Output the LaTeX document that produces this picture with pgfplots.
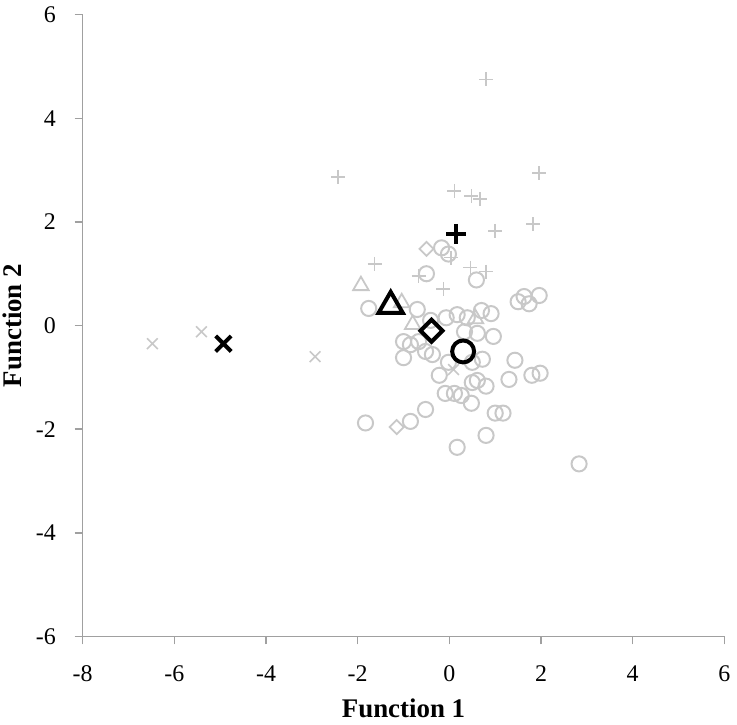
\documentclass[border=0pt]{standalone}
\usepackage{fontspec}
\setmainfont{Liberation Serif}
\usepackage{pgfplots}
\pgfplotsset{compat=1.18}
\definecolor{markgray}{HTML}{C8C8C8}
\definecolor{axisgray}{HTML}{A0A0A0}

\begin{document}
\begin{tikzpicture}
\begin{axis}[
  scale only axis, width=322pt, height=312pt,
  xmin=-8, xmax=6, ymin=-6, ymax=6,
  xtick={-8,-6,...,6}, ytick={-6,-4,...,6},
  axis x line*=bottom, axis y line*=left,
  axis line style={draw=axisgray, line width=0.75pt, -},
  tick style={draw=axisgray, line width=0.75pt},
  major tick length=4pt,
  tick align=outside,
  /pgf/number format/assume math mode=true,
  ticklabel style={font=\fontsize{12}{14}\selectfont},
  xticklabel style={yshift=-7pt},
  yticklabel style={xshift=-6pt},
  xlabel={Function 1}, ylabel={Function 2},
  every axis x label/.style={at={(axis description cs:0.5,-0.116)}, anchor=center, inner sep=0pt,
    font=\fontsize{13.5}{15}\selectfont\bfseries},
  every axis y label/.style={at={(axis description cs:-0.109,0.5)}, anchor=center, rotate=90, inner sep=0pt,
    font=\fontsize{13.5}{15}\selectfont\bfseries},
  clip=false,
]

% gray group cases
\addplot[only marks, mark=o, mark size=3.8pt, color=markgray, mark options={line width=1pt}]
  coordinates {
  (-1.76,0.33)(-0.70,0.31)(-0.50,1.00)(-0.17,1.50)(-0.02,1.38)(0.59,0.88)
  (-0.41,0.10)(-0.07,0.15)(0.17,0.21)(0.39,0.15)(0.70,0.29)(0.91,0.23)
  (1.50,0.46)(1.63,0.56)(1.74,0.42)(1.96,0.58)(0.33,-0.12)(0.61,-0.15)
  (0.96,-0.21)(-1.00,-0.31)(-0.85,-0.37)(-0.67,-0.31)(-0.52,-0.50)(-0.37,-0.56)
  (-1.00,-0.62)(-0.02,-0.71)(0.50,-0.71)(0.72,-0.65)(1.43,-0.67)(-0.22,-0.96)
  (0.50,-1.10)(0.61,-1.06)(0.80,-1.17)(1.30,-1.04)(1.80,-0.96)(1.98,-0.92)
  (-0.09,-1.31)(0.11,-1.31)(0.26,-1.35)(0.48,-1.50)(-0.52,-1.62)(-0.85,-1.85)
  (-1.83,-1.88)(1.00,-1.69)(1.17,-1.69)(0.80,-2.12)(0.17,-2.35)(2.83,-2.67)
  };

\addplot[only marks, mark=+, mark size=3.5pt, color=markgray, mark options={line width=0.8pt}]
  coordinates {
  (-2.43,2.87)(1.96,2.94)(0.11,2.60)(0.48,2.50)(0.67,2.44)(1.83,1.96)
  (1.00,1.83)(-1.63,1.19)(0.46,1.12)(0.80,1.04)(-0.67,0.96)(-0.13,0.71)
  (0.80,4.75)(0.04,1.31)
  };

\addplot[only marks, mark=x, mark size=3.8pt, color=markgray, mark options={line width=0.8pt}]
  coordinates {(-6.48,-0.35)(-5.41,-0.12)(-2.93,-0.60)(0.09,-0.85)};

\addplot[only marks, mark=triangle, mark size=4.5pt, color=markgray, mark options={line width=0.9pt}]
  coordinates {(-1.93,0.77)(-1.04,0.44)(-0.80,0.02)(0.57,0.13)};

\addplot[only marks, mark=square, mark size=2.5pt, color=markgray, mark options={line width=0.9pt, rotate=45}]
  coordinates {(-0.50,1.48)(-1.15,-1.96)};

% group centroids
\addplot[only marks, mark=x, mark size=5.5pt, color=black, mark options={line width=2pt}]
  coordinates {(-4.93,-0.35)};
\addplot[only marks, mark=triangle, mark size=7pt, color=black, mark options={line width=2pt}]
  coordinates {(-1.28,0.38)};
\addplot[only marks, mark=square, mark size=3.9pt, color=black, mark options={line width=2pt, rotate=45}]
  coordinates {(-0.39,-0.10)};
\addplot[only marks, mark=o, mark size=5.5pt, color=black, mark options={line width=2pt}]
  coordinates {(0.30,-0.50)};
\addplot[only marks, mark=+, mark size=5pt, color=black, mark options={line width=2pt}]
  coordinates {(0.15,1.77)};

\path (rel axis cs:0,0) ++(-41.5pt,-44pt) coordinate (bbl);
\path (rel axis cs:1,1) ++(5pt,6.5pt) coordinate (btr);
\end{axis}
\path (bbl) rectangle (btr);
\end{tikzpicture}
\end{document}
